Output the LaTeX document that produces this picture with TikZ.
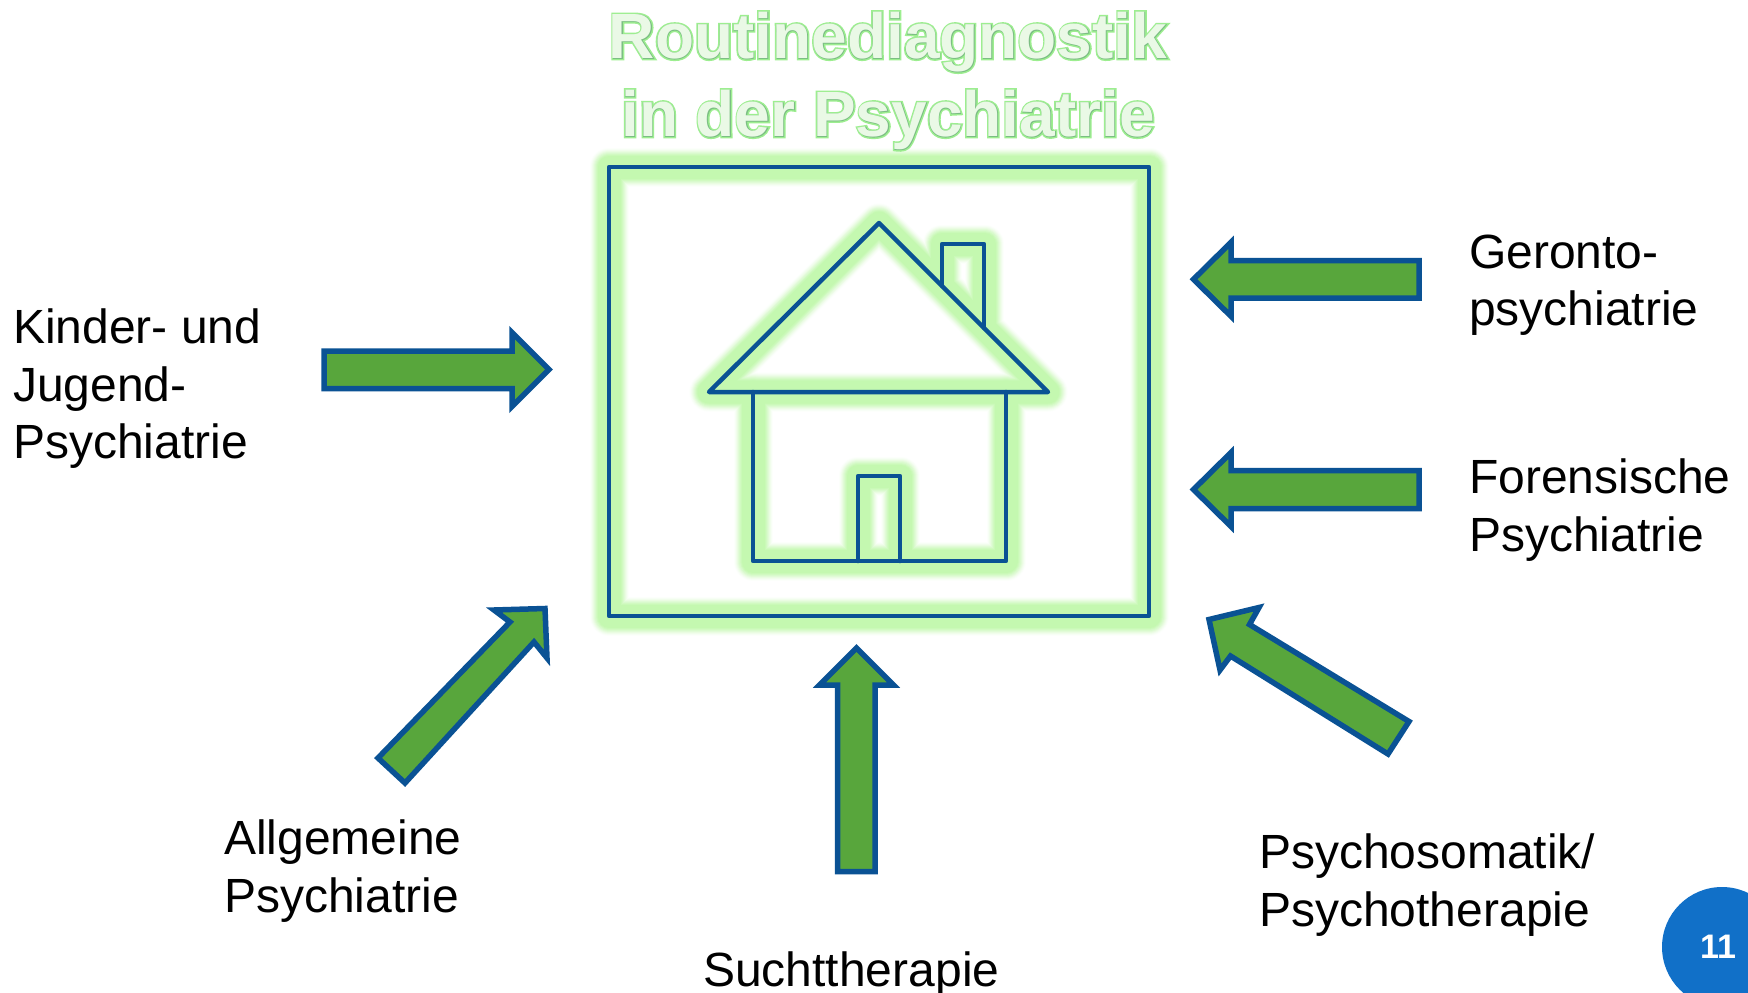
\documentclass[tikz,border=0pt]{standalone}
\usepackage{fontspec}
\setmainfont{Liberation Sans}
\newfontfamily\glowA[FakeBold=6]{Liberation Sans Bold}
\newfontfamily\glowB[FakeBold=1.2]{Liberation Sans Bold}
\newfontfamily\glowC{Liberation Sans Bold}
\definecolor{linecol}{HTML}{0A5294}
\definecolor{arrowfill}{HTML}{58A63C}
\definecolor{badge}{HTML}{1170C8}
\definecolor{gE}{HTML}{C4F8B0}
\definecolor{titleglowcol}{HTML}{9DEE90}
\definecolor{titlelinecol}{HTML}{7CBE84}
\definecolor{titlefill}{HTML}{EAF9E6}
\newcommand{\housepaths}[1]{%
  \draw[#1] (609,167) rectangle (1149,616);
  \draw[#1] (709,392) -- (879,223) -- (1048,392) -- cycle;
  \draw[#1] (753,392) -- (753,561) -- (1006,561) -- (1006,392);
  \draw[#1] (858,561) -- (858,476) -- (900,476) -- (900,561);
  \draw[#1] (942,286) -- (942,244) -- (984,244) -- (984,328);
}
\newcommand{\titletext}{Routinediagnostik\\in der Psychiatrie}
\tikzset{
  x=1pt,y=-1pt,
  glowline/.style={line join=round,line cap=round},
  arrowshape/.style={draw=linecol,fill=arrowfill,line width=5.5pt,line join=miter},
  label/.style={anchor=north west,inner sep=0pt,align=left,font=\fontsize{48}{57.2}\selectfont,text=black},
  titlelayer/.style={anchor=center,inner sep=0pt,align=center}
}
\begin{document}
\begin{tikzpicture}
\useasboundingbox (0,0) rectangle (1748,993);
\fill[white] (0,0) rectangle (1748,993);
% glow
\foreach \w/\p in {39/5,37/13,35/24,33/36,31/50,29/64,27/78,25/90,23/100}{
  \housepaths{glowline,gE!\p!white,line width=\w pt}
}
\housepaths{linecol,line width=4.5pt,line join=round,line cap=round}
% title
\node[titlelayer,text=titleglowcol,font=\fontsize{64}{78}\glowA] (titleglow) at (888,81) {\titletext};
\node[titlelayer,text=titlelinecol,font=\fontsize{64}{78}\glowB] (titleline) at (888,81) {\titletext};
\node[titlelayer,text=titlefill,font=\fontsize{64}{78}\glowC] (title) at (888,81) {\titletext};
% arrows
\draw[arrowshape] (324,351) -- (512,351) -- (512,332.5) -- (549,369.5) -- (512,406.5) -- (512,388.5) -- (324,388.5) -- cycle;
\draw[arrowshape] (1419,260.5) -- (1231,260.5) -- (1231,242.3) -- (1193.5,279.3) -- (1231,316.3) -- (1231,298) -- (1419,298) -- cycle;
\draw[arrowshape] (1419,470.5) -- (1231,470.5) -- (1231,452.5) -- (1193.5,489.5) -- (1231,526.5) -- (1231,508.5) -- (1419,508.5) -- cycle;
\draw[arrowshape] (875,871.5) -- (875,685) -- (893.5,685) -- (856.5,648) -- (819.5,685) -- (837.5,685) -- (837.5,871.5) -- cycle;
\draw[arrowshape] (378,758) -- (510,622) -- (494,610) -- (545,608.5) -- (547,658) -- (534,642) -- (405,783) -- cycle;
\draw[arrowshape] (1409,721.5) -- (1249.5,624.5) -- (1259,607.5) -- (1209,619.5) -- (1220,670) -- (1230.5,656) -- (1388,754) -- cycle;
% labels
\node[label] (kinder) at (13,309) {Kinder- und\\Jugend-\\Psychiatrie};
\node[label] (geronto) at (1469,235) {Geronto-\\psychiatrie};
\node[label] (forensic) at (1469,459) {Forensische\\Psychiatrie};
\node[label] (allgemein) at (224,820) {Allgemeine\\Psychiatrie};
\node[label] (psychosom) at (1259,834) {Psychosomatik/\\Psychotherapie};
\node[label] (sucht) at (703,952) {Suchttherapie};
% badge
\fill[badge] (1722,947) circle (60);
\node[inner sep=0pt,text=white,font=\fontsize{34}{40}\selectfont\bfseries] (page) at (1718,947) {11};
\end{tikzpicture}
\end{document}
